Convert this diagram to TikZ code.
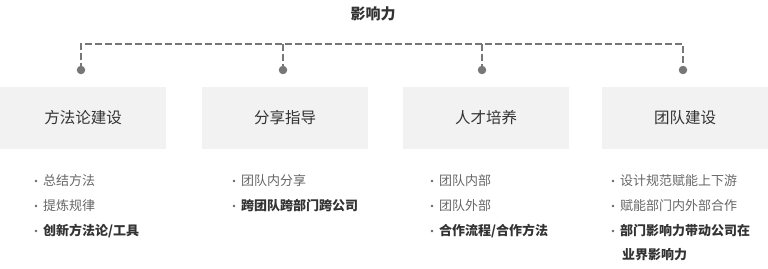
\documentclass[tikz,border=0pt]{standalone}
\usepackage{fontspec}
\setmainfont{Noto Sans CJK SC}
\begin{document}
\begin{tikzpicture}[x=1pt,y=-1pt,
  dashline/.style={draw=linegray,line width=2.5pt,dash pattern=on 7pt off 3pt},
  jdot/.style={circle,fill=linegray,inner sep=0pt,minimum size=8.5pt},
  catbox/.style={fill=boxfill,minimum width=166pt,minimum height=62pt,inner sep=0pt,text=darktext,font=\fontsize{15.5}{18}\selectfont},
  titletext/.style={text=darktext,font=\bfseries\fontsize{15}{18}\selectfont,inner sep=0pt},
  itemtext/.style={anchor=west,inner sep=0pt,text=midtext,font=\fontsize{13}{15}\selectfont},
  itembold/.style={itemtext,text=darktext,font=\bfseries\fontsize{13}{15}\selectfont},
  bul/.style={fill=midtext}
]
\definecolor{linegray}{HTML}{777777}
\definecolor{boxfill}{HTML}{F2F2F2}
\definecolor{darktext}{HTML}{333333}
\definecolor{midtext}{HTML}{666666}
\useasboundingbox (0,0) rectangle (768,268);

\node[titletext] (title) at (373,14) {影响力};

\coordinate (c1) at (81,44);
\coordinate (c2) at (283,44);
\coordinate (c3) at (482,44);
\coordinate (c4) at (683,44);
\node[jdot] (d1) at (81,70) {};
\node[jdot] (d2) at (283,70) {};
\node[jdot] (d3) at (482,70) {};
\node[jdot] (d4) at (683,70) {};
\draw[dashline] (d1.center) -- (c1) -- (c4) -- (d4.center);
\draw[dashline] (c2) -- (d2.center);
\draw[dashline] (c3) -- (d3.center);

\node[catbox] (b1) at (83,118) {方法论建设};
\node[catbox] (b2) at (285,118) {分享指导};
\node[catbox] (b3) at (486,118) {人才培养};
\node[catbox] (b4) at (685,118) {团队建设};

% column 1
\node[itemtext] (i11) at (43,181) {总结方法};
\node[itemtext] (i12) at (43,206) {提炼规律};
\node[itembold] (i13) at (43,231) {创新方法论/工具};
% column 2
\node[itemtext] (i21) at (241,181) {团队内分享};
\node[itembold] (i22) at (241,206) {跨团队跨部门跨公司};
% column 3
\node[itemtext] (i31) at (439,181) {团队内部};
\node[itemtext] (i32) at (439,206) {团队外部};
\node[itembold] (i33) at (439,231) {合作流程/合作方法};
% column 4
\node[itemtext] (i41) at (620,181) {设计规范赋能上下游};
\node[itemtext] (i42) at (620,206) {赋能部门内外部合作};
\node[itembold] (i43) at (620,231) {部门影响力带动公司在};
\node[itembold] (i44) at (622,255) {业界影响力};

\foreach \n in {i11,i12,i13,i21,i22,i31,i32,i33,i41,i42,i43}{
  \fill[bul] ([xshift=-7pt]\n.west) circle (1.4pt);
}
\end{tikzpicture}
\end{document}
